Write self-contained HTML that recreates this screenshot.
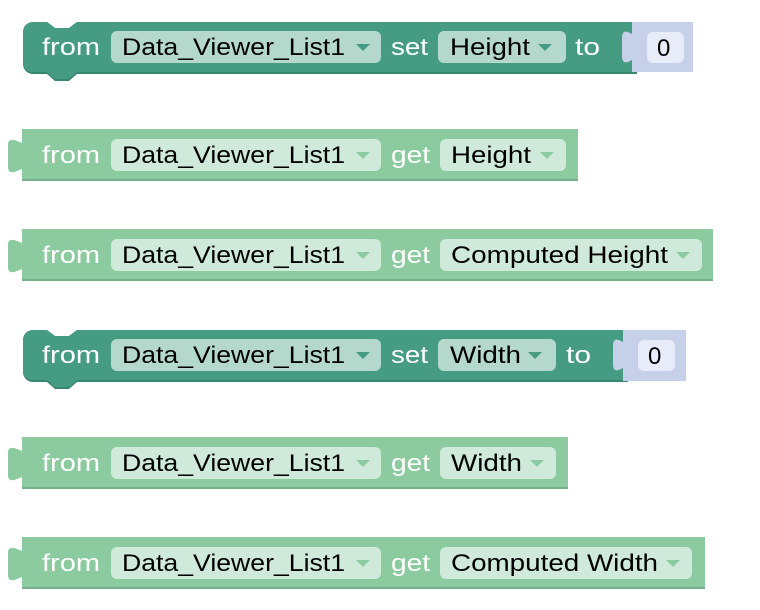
<!DOCTYPE html>
<html><head><meta charset="utf-8"><style>
html,body{margin:0;padding:0;background:#fff;}
svg{display:block}
text{font-family:"Liberation Sans",sans-serif;font-size:24px;}
.w{fill:#fff}
.b{fill:#000}
</style></head><body>
<svg width="760" height="610" viewBox="0 0 760 610" xmlns="http://www.w3.org/2000/svg">
<defs>
<!-- set block shape, width to right edge R parameterized via separate paths -->
</defs>

<!-- ===== Block 1: set Height ===== -->
<g transform="translate(0,22)">
  <path d="M23,10 a10,10 0 0 1 10,-10 H47 l8,6 h14 l8,-6 H637 V52 H77 l-8,7 h-14 l-8,-7 H33 a10,10 0 0 1 -10,-10 Z" fill="#3a8670"/>
  <path d="M23,10 a10,10 0 0 1 10,-10 H47 l8,6 h14 l8,-6 H637 V50 H77 l-8,7 h-14 l-8,-7 H33 a10,10 0 0 1 -10,-10 Z" fill="#459c82"/>
  <path d="M632,0 H693 V50 H632 V38 L628,40 Q622,42 622,34 V16 Q622,8 628,10 L632,12 Z" fill="#c6d0e8"/>
  <rect x="647" y="10" width="37" height="31" rx="6" fill="#e8ecf8"/>
  <text x="657" y="34" class="b">0</text>
  <text x="42" y="33" class="w" textLength="58" lengthAdjust="spacingAndGlyphs">from</text>
  <rect x="111" y="9" width="270" height="32" rx="6" fill="#b5d8cc"/>
  <text x="122" y="33" class="b" textLength="223" lengthAdjust="spacingAndGlyphs">Data_Viewer_List1</text>
  <path d="M356,22 h14 l-7,7 Z" fill="#459c82"/>
  <text x="391" y="33" class="w" textLength="37" lengthAdjust="spacingAndGlyphs">set</text>
  <rect x="438" y="9" width="128" height="32" rx="6" fill="#b5d8cc"/>
  <text x="450" y="33" class="b" textLength="80" lengthAdjust="spacingAndGlyphs">Height</text>
  <path d="M538,22 h14 l-7,7 Z" fill="#459c82"/>
  <text x="575" y="33" class="w" textLength="25" lengthAdjust="spacingAndGlyphs">to</text>
</g>

<!-- ===== Block 2: get Height ===== -->
<g transform="translate(0,129)">
  <path d="M22,0 H578 V52 H22 V40 L14,43 Q8,44 8,38 V16 Q8,10 14,11 L22,14 Z" fill="#76b08a"/>
  <path d="M22,0 H578 V50 H22 V40 L14,43 Q8,44 8,38 V16 Q8,10 14,11 L22,14 Z" fill="#8ccb9f"/>
  <text x="42" y="34" class="w" textLength="58" lengthAdjust="spacingAndGlyphs">from</text>
  <rect x="111" y="10" width="270" height="32" rx="6" fill="#cfeadb"/>
  <text x="122" y="34" class="b" textLength="223" lengthAdjust="spacingAndGlyphs">Data_Viewer_List1</text>
  <path d="M356,23 h14 l-7,7 Z" fill="#8ccb9f"/>
  <text x="391" y="34" class="w" textLength="39" lengthAdjust="spacingAndGlyphs">get</text>
  <rect x="440" y="10" width="126" height="32" rx="6" fill="#cfeadb"/>
  <text x="451" y="34" class="b" textLength="80" lengthAdjust="spacingAndGlyphs">Height</text>
  <path d="M540,23 h14 l-7,7 Z" fill="#8ccb9f"/>
</g>

<!-- ===== Block 3: get Computed Height ===== -->
<g transform="translate(0,229)">
  <path d="M22,0 H713 V52 H22 V40 L14,43 Q8,44 8,38 V16 Q8,10 14,11 L22,14 Z" fill="#76b08a"/>
  <path d="M22,0 H713 V50 H22 V40 L14,43 Q8,44 8,38 V16 Q8,10 14,11 L22,14 Z" fill="#8ccb9f"/>
  <text x="42" y="34" class="w" textLength="58" lengthAdjust="spacingAndGlyphs">from</text>
  <rect x="111" y="10" width="270" height="32" rx="6" fill="#cfeadb"/>
  <text x="122" y="34" class="b" textLength="223" lengthAdjust="spacingAndGlyphs">Data_Viewer_List1</text>
  <path d="M356,23 h14 l-7,7 Z" fill="#8ccb9f"/>
  <text x="391" y="34" class="w" textLength="39" lengthAdjust="spacingAndGlyphs">get</text>
  <rect x="440" y="10" width="262" height="32" rx="6" fill="#cfeadb"/>
  <text x="451" y="34" class="b" textLength="217" lengthAdjust="spacingAndGlyphs">Computed Height</text>
  <path d="M676,23 h14 l-7,7 Z" fill="#8ccb9f"/>
</g>

<!-- ===== Block 4: set Width ===== -->
<g transform="translate(0,330)">
  <path d="M23,10 a10,10 0 0 1 10,-10 H47 l8,6 h14 l8,-6 H628 V52 H77 l-8,7 h-14 l-8,-7 H33 a10,10 0 0 1 -10,-10 Z" fill="#3a8670"/>
  <path d="M23,10 a10,10 0 0 1 10,-10 H47 l8,6 h14 l8,-6 H628 V50 H77 l-8,7 h-14 l-8,-7 H33 a10,10 0 0 1 -10,-10 Z" fill="#459c82"/>
  <path d="M623,0 H686 V51 H623 V38 L619,40 Q613,42 613,34 V16 Q613,8 619,10 L623,12 Z" fill="#c6d0e8"/>
  <rect x="638" y="10" width="37" height="31" rx="6" fill="#e8ecf8"/>
  <text x="648" y="34" class="b">0</text>
  <text x="42" y="33" class="w" textLength="58" lengthAdjust="spacingAndGlyphs">from</text>
  <rect x="111" y="9" width="270" height="32" rx="6" fill="#b5d8cc"/>
  <text x="122" y="33" class="b" textLength="223" lengthAdjust="spacingAndGlyphs">Data_Viewer_List1</text>
  <path d="M356,22 h14 l-7,7 Z" fill="#459c82"/>
  <text x="391" y="33" class="w" textLength="37" lengthAdjust="spacingAndGlyphs">set</text>
  <rect x="438" y="9" width="118" height="32" rx="6" fill="#b5d8cc"/>
  <text x="450" y="33" class="b" textLength="71" lengthAdjust="spacingAndGlyphs">Width</text>
  <path d="M528,22 h14 l-7,7 Z" fill="#459c82"/>
  <text x="566" y="33" class="w" textLength="25" lengthAdjust="spacingAndGlyphs">to</text>
</g>

<!-- ===== Block 5: get Width ===== -->
<g transform="translate(0,437)">
  <path d="M22,0 H568 V52 H22 V40 L14,43 Q8,44 8,38 V16 Q8,10 14,11 L22,14 Z" fill="#76b08a"/>
  <path d="M22,0 H568 V50 H22 V40 L14,43 Q8,44 8,38 V16 Q8,10 14,11 L22,14 Z" fill="#8ccb9f"/>
  <text x="42" y="34" class="w" textLength="58" lengthAdjust="spacingAndGlyphs">from</text>
  <rect x="111" y="10" width="270" height="32" rx="6" fill="#cfeadb"/>
  <text x="122" y="34" class="b" textLength="223" lengthAdjust="spacingAndGlyphs">Data_Viewer_List1</text>
  <path d="M356,23 h14 l-7,7 Z" fill="#8ccb9f"/>
  <text x="391" y="34" class="w" textLength="39" lengthAdjust="spacingAndGlyphs">get</text>
  <rect x="440" y="10" width="116" height="32" rx="6" fill="#cfeadb"/>
  <text x="451" y="34" class="b" textLength="71" lengthAdjust="spacingAndGlyphs">Width</text>
  <path d="M530,23 h14 l-7,7 Z" fill="#8ccb9f"/>
</g>

<!-- ===== Block 6: get Computed Width ===== -->
<g transform="translate(0,537)">
  <path d="M22,0 H705 V52 H22 V40 L14,43 Q8,44 8,38 V16 Q8,10 14,11 L22,14 Z" fill="#76b08a"/>
  <path d="M22,0 H705 V50 H22 V40 L14,43 Q8,44 8,38 V16 Q8,10 14,11 L22,14 Z" fill="#8ccb9f"/>
  <text x="42" y="34" class="w" textLength="58" lengthAdjust="spacingAndGlyphs">from</text>
  <rect x="111" y="10" width="270" height="32" rx="6" fill="#cfeadb"/>
  <text x="122" y="34" class="b" textLength="223" lengthAdjust="spacingAndGlyphs">Data_Viewer_List1</text>
  <path d="M356,23 h14 l-7,7 Z" fill="#8ccb9f"/>
  <text x="391" y="34" class="w" textLength="39" lengthAdjust="spacingAndGlyphs">get</text>
  <rect x="440" y="10" width="252" height="32" rx="6" fill="#cfeadb"/>
  <text x="451" y="34" class="b" textLength="207" lengthAdjust="spacingAndGlyphs">Computed Width</text>
  <path d="M666,23 h14 l-7,7 Z" fill="#8ccb9f"/>
</g>
</svg>
</body></html>
